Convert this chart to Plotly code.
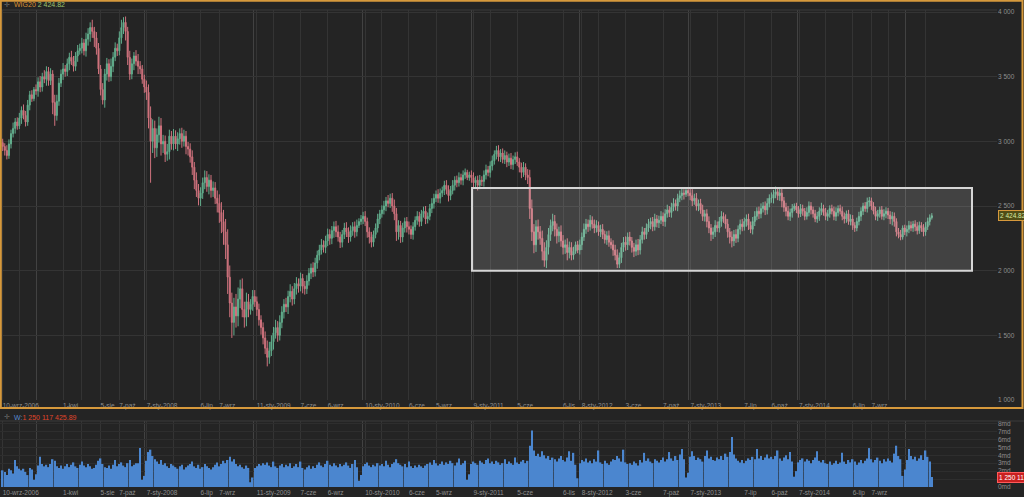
import pandas as pd
import plotly.graph_objects as go

# ---------------- DATA (weekly WIG20) ----------------
first_open = 2990

close_2006 = [2960, 2930, 2890, 2980, 3060, 3100, 3150, 3120, 3180, 3240, 3200, 3150, 3280, 3360, 3330, 3400]
close_2007 = [3390, 3460, 3420, 3500, 3480, 3540, 3470, 3520, 3300, 3200, 3310, 3450, 3520, 3560, 3540, 3600,
              3650, 3620, 3580, 3660, 3700, 3720, 3760, 3700, 3790, 3830, 3880, 3850, 3800, 3720, 3560, 3400,
              3320, 3520, 3600, 3500, 3580, 3650, 3720, 3700, 3800, 3880, 3920, 3850, 3650, 3520, 3600, 3660,
              3620, 3580, 3560, 3480, 3420]
close_2008 = [3380, 3180, 3000, 3100, 2950, 3050, 3120, 2980, 3000, 2900, 2920, 3040, 2980, 3040, 2980, 3020,
              3060, 3000, 3040, 2960, 2940, 2880, 2800, 2700, 2620, 2560, 2600, 2680, 2720, 2650, 2700, 2620,
              2640, 2560, 2520, 2450, 2380, 2300, 2200, 1950, 1750, 1600, 1720, 1650, 1780, 1860, 1700, 1640,
              1760, 1700, 1740, 1800]
close_2009 = [1760, 1700, 1620, 1560, 1480, 1400, 1330, 1380, 1450, 1520, 1560, 1500, 1600, 1680, 1740, 1720,
              1800, 1840, 1780, 1860, 1900, 1880, 1940, 1880, 1860, 1920, 1980, 2020, 1990, 2060, 2120, 2160,
              2200, 2180, 2230, 2280, 2250, 2310, 2340, 2300, 2260, 2220, 2280, 2330, 2300, 2260, 2310, 2340,
              2300, 2350, 2380, 2400]
close_2010 = [2420, 2380, 2300, 2260, 2220, 2280, 2330, 2400, 2440, 2470, 2500, 2540, 2520, 2560, 2500, 2440,
              2300, 2350, 2260, 2330, 2380, 2340, 2320, 2280, 2340, 2390, 2420, 2380, 2440, 2460, 2400, 2420,
              2480, 2520, 2560, 2590, 2560, 2600, 2620, 2660, 2630, 2580, 2620, 2660, 2700, 2680, 2720, 2700,
              2740, 2760, 2720, 2740]
close_2011 = [2720, 2680, 2700, 2660, 2700, 2690, 2740, 2780, 2760, 2810, 2850, 2900, 2930, 2880, 2910, 2860,
              2890, 2840, 2870, 2820, 2860, 2880, 2840, 2800, 2760, 2800, 2740, 2720, 2480, 2300, 2200, 2340,
              2300, 2250, 2150, 2080, 2180, 2280, 2350, 2380, 2320, 2270, 2300, 2230, 2180, 2200, 2140, 2180,
              2120, 2150, 2200, 2160]
close_2012 = [2200, 2260, 2320, 2360, 2340, 2390, 2360, 2330, 2350, 2300, 2320, 2280, 2240, 2270, 2220, 2200,
              2160, 2120, 2050, 2100, 2180, 2220, 2200, 2260, 2230, 2180, 2150, 2200, 2160, 2240, 2300, 2280,
              2330, 2360, 2380, 2340, 2400, 2370, 2390, 2420, 2380, 2440, 2470, 2450, 2490, 2520, 2500, 2560,
              2580, 2600, 2590, 2620, 2600]
close_2013 = [2580, 2540, 2560, 2500, 2520, 2470, 2420, 2440, 2380, 2330, 2280, 2300, 2350, 2330, 2380, 2420,
              2400, 2360, 2300, 2260, 2230, 2280, 2250, 2320, 2360, 2340, 2380, 2400, 2350, 2320, 2380, 2420,
              2460, 2440, 2480, 2500, 2470, 2520, 2560, 2560, 2590, 2610, 2580, 2600, 2540, 2490, 2460, 2420,
              2450, 2480, 2500, 2470]
close_2014 = [2440, 2480, 2460, 2420, 2450, 2500, 2470, 2440, 2400, 2420, 2460, 2480, 2450, 2420, 2440, 2480,
              2460, 2420, 2450, 2480, 2460, 2420, 2400, 2440, 2380, 2400, 2350, 2330, 2380, 2420, 2460, 2500,
              2480, 2530, 2540, 2500, 2460, 2420, 2440, 2470, 2420, 2440, 2460, 2430, 2400, 2420, 2380, 2300,
              2280, 2260, 2330, 2300]
close_2015 = [2320, 2350, 2330, 2360, 2340, 2310, 2350, 2330, 2300, 2340, 2380, 2410, 2424.82]

# upper / lower wick length beyond the candle body (index points)
wick_up = [
    30, 25, 40, 35, 30, 45, 30, 35, 40, 30, 45, 35, 40, 30, 35, 20,                          # 2006
    40, 35, 45, 30, 50, 40, 35, 45, 30, 60, 50, 40, 35, 45, 30, 40, 35, 50, 40, 30,
    45, 35, 40, 30, 50, 45, 40, 60, 35, 45, 40, 30, 50, 40, 45, 35, 60, 40, 45, 35,
    50, 60, 40, 45, 35, 50, 40, 30, 45, 55, 40, 30, 35,                                      # 2007
    50, 60, 90, 70, 60, 50, 70, 60, 50, 45, 60, 50, 40, 55, 45, 50, 40, 45, 50, 40,
    35, 45, 50, 40, 60, 50, 45, 40, 55, 50, 45, 40, 50, 45, 60, 70, 80, 90, 100, 120,
    90, 80, 70, 100, 90, 70, 80, 60, 70, 60, 40, 50,                                         # 2008
    50, 40, 45, 35, 40, 50, 60, 70, 50, 45, 60, 50, 55, 45, 40, 50, 45, 55, 40, 45,
    50, 40, 45, 35, 40, 45, 40, 35, 45, 40, 35, 40, 45, 35, 40, 45, 40, 35, 40, 45,
    50, 40, 35, 40, 45, 35, 40, 35, 40, 45, 25, 30,                                          # 2009
    35, 40, 30, 35, 40, 30, 35, 40, 30, 35, 40, 30, 45, 35, 40, 50, 45, 40, 35, 40,
    30, 35, 40, 30, 35, 30, 40, 35, 30, 35, 40, 30, 35, 40, 35, 30, 40, 35, 30, 35,
    40, 30, 35, 40, 30, 35, 40, 30, 35, 30, 20, 25,                                          # 2010
    35, 40, 30, 35, 40, 30, 35, 40, 30, 35, 40, 30, 35, 40, 30, 35, 40, 30, 35, 40,
    30, 35, 40, 30, 35, 40, 30, 45, 60, 70, 60, 50, 55, 45, 60, 70, 55, 50, 45, 60,
    50, 45, 40, 50, 45, 40, 50, 45, 40, 35, 25, 30,                                          # 2011
    40, 35, 45, 40, 35, 40, 30, 35, 40, 30, 35, 40, 30, 35, 40, 30, 35, 40, 45, 40,
    35, 40, 45, 35, 40, 30, 35, 40, 45, 35, 40, 30, 35, 40, 30, 35, 40, 30, 35, 40,
    30, 35, 40, 30, 35, 40, 30, 35, 40, 35, 30, 20, 25,                                      # 2012
    40, 50, 35, 40, 30, 35, 40, 30, 35, 40, 30, 35, 40, 30, 35, 40, 30, 35, 40, 30,
    45, 35, 40, 30, 35, 40, 30, 35, 40, 30, 35, 40, 30, 35, 40, 30, 35, 40, 30, 45,
    35, 40, 30, 35, 40, 30, 35, 40, 30, 35, 20, 25,                                          # 2013
    30, 35, 30, 25, 40, 35, 30, 25, 30, 35, 30, 45, 30, 35, 30, 25, 30, 35, 40, 25,
    30, 35, 30, 25, 30, 35, 30, 25, 30, 35, 30, 25, 30, 35, 30, 25, 30, 35, 30, 25,
    30, 35, 30, 25, 30, 35, 30, 25, 30, 35, 20, 25,                                          # 2014
    30, 35, 30, 25, 30, 35, 30, 25, 30, 35, 30, 25, 20,                                      # 2015
]
wick_dn = [
    35, 40, 30, 25, 35, 30, 40, 30, 25, 45, 30, 35, 30, 40, 25, 20,                          # 2006
    30, 45, 40, 35, 30, 50, 40, 35, 90, 80, 40, 35, 30, 45, 40, 35, 50, 30, 40, 35,
    45, 30, 40, 35, 45, 50, 60, 50, 70, 50, 40, 45, 35, 60, 50, 40, 35, 45, 30, 40,
    35, 45, 50, 70, 60, 45, 40, 50, 35, 60, 40, 35, 45,                                      # 2007
    60, 80, 320, 90, 80, 70, 60, 90, 70, 60, 50, 60, 45, 50, 40, 55, 45, 50, 40, 60,
    50, 45, 60, 70, 50, 55, 60, 45, 50, 40, 60, 55, 50, 45, 70, 80, 90, 100, 110, 130,
    110, 120, 100, 90, 80, 70, 60, 80, 70, 60, 40, 50,                                       # 2008
    40, 50, 45, 55, 50, 45, 70, 50, 40, 60, 45, 50, 40, 45, 50, 40, 55, 45, 50, 40,
    45, 50, 40, 55, 45, 40, 35, 45, 40, 35, 45, 40, 35, 40, 45, 40, 50, 45, 55, 40,
    35, 45, 40, 35, 40, 45, 35, 40, 45, 35, 20, 25,                                          # 2009
    40, 35, 45, 50, 40, 35, 30, 35, 40, 30, 35, 40, 30, 35, 45, 50, 70, 60, 45, 40,
    35, 45, 40, 35, 40, 30, 35, 40, 35, 30, 40, 35, 30, 35, 40, 30, 35, 40, 30, 35,
    40, 45, 35, 30, 40, 35, 30, 35, 40, 30, 20, 25,                                          # 2010
    40, 35, 45, 40, 30, 35, 40, 35, 30, 40, 35, 30, 40, 35, 40, 30, 35, 40, 30, 35,
    40, 35, 30, 40, 45, 35, 40, 50, 80, 70, 65, 55, 60, 50, 70, 50, 60, 55, 50, 45,
    55, 60, 50, 45, 55, 50, 60, 45, 40, 35, 20, 25,                                          # 2011
    35, 40, 30, 35, 40, 30, 35, 40, 35, 30, 40, 35, 30, 40, 35, 30, 45, 40, 30, 30,
    40, 35, 45, 40, 35, 40, 45, 35, 40, 35, 30, 40, 35, 30, 40, 35, 30, 35, 40, 30,
    35, 40, 30, 35, 40, 30, 35, 40, 30, 35, 40, 20, 25,                                      # 2012
    35, 40, 30, 35, 40, 30, 35, 40, 45, 40, 50, 35, 40, 30, 35, 40, 30, 35, 45, 50,
    50, 40, 35, 30, 40, 35, 30, 40, 35, 30, 40, 35, 30, 40, 35, 30, 40, 35, 30, 35,
    40, 30, 35, 40, 50, 35, 40, 30, 35, 40, 20, 25,                                          # 2013
    30, 25, 35, 30, 25, 30, 35, 30, 25, 30, 35, 30, 25, 30, 35, 30, 25, 30, 35, 30,
    25, 30, 35, 30, 25, 30, 35, 30, 25, 30, 35, 30, 25, 30, 35, 30, 25, 30, 35, 30,
    25, 30, 35, 30, 40, 50, 40, 35, 30, 25, 20, 25,                                          # 2014
    35, 30, 25, 30, 35, 30, 25, 30, 35, 30, 25, 30, 15,                                      # 2015
]

# weekly turnover in billions PLN ("md")
volume_md = [
    2.1, 1.9, 1.5, 2.3, 2.1, 1.7, 3.4, 2.6, 2.3, 2.1, 2.3, 1.9, 1.5, 2.4, 2.2, 0.9,          # 2006
    1.6, 2.7, 3.8, 2.9, 2.6, 2.8, 2.5, 2.9, 3.5, 3.3, 2.6, 2.4, 2.7, 2.3, 2.6, 2.9, 2.5, 2.8, 3.1, 2.6,
    2.4, 2.8, 3.2, 2.7, 2.5, 2.9, 2.6, 2.3, 2.4, 2.8, 3.3, 3.6, 2.9, 2.5, 2.4, 2.7, 2.3, 2.8, 3.4, 2.6,
    2.9, 3.1, 2.7, 2.5, 3.0, 3.4, 2.6, 2.8, 3.0, 3.0, 4.9, 0.9, 1.4,                          # 2007
    3.3, 4.4, 4.7, 3.9, 3.5, 3.2, 2.9, 3.4, 2.8, 3.0, 2.6, 2.4, 2.9, 2.7, 2.5, 2.3, 2.6, 2.8, 2.2, 2.5,
    2.7, 2.9, 3.2, 2.6, 2.4, 2.8, 2.3, 2.5, 2.9, 2.6, 2.4, 2.2, 2.5, 2.8, 3.1, 2.6, 2.9, 3.3, 3.0, 3.4,
    3.8, 3.2, 3.5, 2.9, 2.6, 2.8, 2.5, 2.3, 2.7, 2.4, 0.6, 1.2,                               # 2008
    2.4, 2.6, 2.9, 2.7, 3.0, 2.8, 3.1, 2.7, 2.5, 3.2, 2.6, 2.4, 2.7, 2.9, 2.5, 2.8, 2.6, 3.0, 2.4, 2.6,
    2.9, 2.5, 3.2, 2.4, 2.2, 2.5, 2.7, 2.3, 2.6, 2.4, 2.8, 3.1, 2.7, 2.5, 2.9, 3.3, 2.8, 2.6, 3.0, 2.7,
    2.5, 2.9, 2.6, 2.8, 3.1, 2.7, 2.4, 2.9, 3.4, 2.5, 0.8, 1.5,                               # 2009
    2.6, 2.9, 3.1, 2.7, 2.5, 2.8, 2.6, 3.0, 2.7, 2.9, 2.6, 3.3, 2.8, 2.5, 2.9, 3.1, 3.5, 3.0, 2.8, 2.6,
    2.9, 2.5, 3.2, 2.6, 2.4, 2.7, 2.5, 2.8, 2.6, 2.4, 2.7, 2.9, 3.1, 2.8, 3.4, 3.0, 2.7, 2.9, 3.2, 2.8,
    3.1, 2.9, 3.3, 3.0, 2.7, 3.1, 3.6, 2.8, 3.0, 3.3, 0.9, 1.6,                               # 2010
    2.9, 3.2, 3.0, 2.8, 3.3, 3.1, 2.9, 3.4, 3.6, 3.0, 3.2, 2.9, 3.3, 3.1, 2.8, 3.0, 3.5, 2.9, 3.2, 3.0,
    2.8, 3.7, 3.1, 2.9, 3.2, 3.4, 3.0, 3.3, 5.2, 7.1, 4.6, 3.9, 4.2, 3.8, 4.5, 4.0, 3.6, 3.9, 3.4, 3.7,
    3.5, 3.2, 3.6, 3.9, 3.4, 3.2, 3.7, 4.5, 3.3, 4.3, 2.8, 1.1,                               # 2011
    3.0, 3.4, 3.2, 3.6, 3.1, 3.3, 3.0, 3.5, 3.2, 4.6, 3.1, 2.9, 3.3, 3.0, 2.8, 3.2, 3.5, 3.4, 3.9, 3.6,
    3.2, 4.7, 3.1, 2.9, 3.0, 2.8, 3.2, 3.0, 2.7, 3.4, 3.1, 4.3, 3.3, 3.6, 3.2, 3.0, 3.5, 3.3, 3.1, 3.4,
    3.7, 3.2, 3.5, 4.4, 3.6, 3.3, 3.9, 3.4, 4.1, 4.8, 3.5, 1.2, 1.8,                          # 2012
    3.8, 4.5, 3.9, 3.4, 3.7, 3.5, 3.2, 3.9, 4.6, 3.6, 3.8, 3.4, 3.3, 3.7, 3.5, 3.9, 3.4, 4.2, 3.8, 4.4,
    6.3, 4.1, 3.6, 3.3, 3.1, 3.4, 3.0, 3.3, 3.6, 3.4, 3.8, 3.5, 4.8, 3.6, 3.9, 3.4, 3.7, 4.1, 3.6, 3.8,
    3.5, 3.9, 4.6, 3.6, 3.3, 3.7, 4.0, 3.5, 4.4, 3.2, 1.3, 2.0,                               # 2013
    3.1, 3.4, 3.6, 3.2, 3.5, 3.3, 3.0, 3.4, 3.7, 4.5, 3.3, 3.1, 3.4, 3.0, 2.9, 3.2, 2.8, 3.0, 3.3, 2.9,
    3.1, 4.3, 3.2, 2.9, 3.4, 3.1, 3.5, 3.2, 2.8, 3.1, 3.4, 3.0, 3.3, 3.6, 4.9, 3.5, 3.1, 3.4, 3.7, 3.3,
    3.0, 3.5, 3.2, 3.6, 3.3, 3.1, 4.2, 5.2, 3.9, 3.5, 1.4, 2.2,                               # 2014
    3.4, 4.8, 3.9, 3.5, 3.8, 3.3, 3.6, 4.0, 3.4, 4.6, 3.8, 3.2, 1.25,                         # 2015
]

tick_dates = ["2006-09-10", "2007-04-01", "2007-08-05", "2007-10-07", "2008-01-07", "2008-07-06",
              "2008-09-07", "2009-01-11", "2009-06-07", "2009-09-06", "2010-01-10", "2010-06-06",
              "2010-09-05", "2011-01-09", "2011-06-05", "2011-11-06", "2012-01-08", "2012-06-03",
              "2012-10-07", "2013-01-07", "2013-07-07", "2013-10-06", "2014-01-07", "2014-07-06",
              "2014-09-07"]
tick_labels = ["10-wrz-2006", "1-kwi", "5-sie", "7-paź", "7-sty-2008", "6-lip", "7-wrz", "11-sty-2009",
               "7-cze", "6-wrz", "10-sty-2010", "6-cze", "5-wrz", "9-sty-2011", "5-cze", "6-lis",
               "8-sty-2012", "3-cze", "7-paź", "7-sty-2013", "7-lip", "6-paź", "7-sty-2014", "6-lip",
               "7-wrz"]
extra_grid_dates = ["2006-11-05", "2007-06-03", "2008-04-06", "2009-03-08", "2010-03-07", "2011-03-06",
                    "2012-03-04", "2013-04-07", "2014-04-06", "2014-11-02", "2015-03-08"]
year_grid_dates = ["2007-01-01", "2008-01-01", "2009-01-01", "2010-01-01", "2011-01-01", "2012-01-01",
                   "2013-01-01", "2014-01-01", "2015-01-01"]

price_ticks = [1000, 1500, 2000, 2500, 3000, 3500, 4000]
price_tick_text = ["1 000", "1 500", "2 000", "2 500", "3 000", "3 500", "4 000"]
vol_ticks = [0, 1, 2, 3, 4, 5, 6, 7, 8]
vol_tick_text = ["0md", "1md", "2md", "3md", "4md", "5md", "6md", "7md", "8md"]

last_price_text = "2 424.82"
last_volume_text = "1 250 117 425.89"
last_volume_box = "1 250 117"
zone_low, zone_high = 2000, 2640

# ---------------- BUILD ----------------
close = (close_2006 + close_2007 + close_2008 + close_2009 + close_2010 + close_2011 +
         close_2012 + close_2013 + close_2014 + close_2015)
assert len(close) == len(wick_up) == len(wick_dn) == len(volume_md), (
    len(close), len(wick_up), len(wick_dn), len(volume_md))

weeks = pd.date_range("2006-09-10", periods=len(close), freq="7D")
open_ = [first_open] + close[:-1]
high = [max(o, c) + u for o, c, u in zip(open_, close, wick_up)]
low = [min(o, c) - d for o, c, d in zip(open_, close, wick_dn)]

W, H = 1024, 497
BG = "#242424"
GRID = "#343434"
YEAR_GRID = "#424242"
TXT = "#8e8e8e"
UP = "#62ae8d"
DN = "#cf727d"
VOL = "#4b86cf"
ORANGE = "#d6993c"
FONT = "Liberation Sans, Arial, sans-serif"


def fy(px):  # pixel row -> paper fraction
    return 1 - px / H


def fx(px):
    return px / W


x_range = ["2006-09-01", "2015-11-03"]
plot_right = 997

fig = go.Figure()
fig.add_trace(go.Candlestick(
    x=weeks, open=open_, high=high, low=low, close=close,
    xaxis="x", yaxis="y", whiskerwidth=0,
    increasing=dict(line=dict(color=UP, width=1), fillcolor=UP),
    decreasing=dict(line=dict(color=DN, width=1), fillcolor=DN),
    showlegend=False, name="WIG20"))
fig.add_trace(go.Bar(
    x=weeks, y=volume_md, xaxis="x2", yaxis="y2",
    marker=dict(color=VOL, line=dict(width=0)), showlegend=False, name="W"))

common_x = dict(
    type="date", range=x_range, domain=[0, fx(plot_right)],
    tickmode="array", tickvals=tick_dates + extra_grid_dates,
    ticktext=tick_labels + [""] * len(extra_grid_dates),
    ticklabelposition="outside right", tickangle=0, ticks="", ticklen=0,
    tickfont=dict(family=FONT, size=6.5, color=TXT),
    showgrid=True, gridcolor=GRID, gridwidth=1, zeroline=False, showline=False,
    minor=dict(tickmode="array", tickvals=year_grid_dates, showgrid=True,
               gridcolor=YEAR_GRID, gridwidth=1, ticks=""),
    automargin=False, fixedrange=True,
)

fig.update_layout(
    width=W, height=H, margin=dict(l=0, r=0, t=0, b=0),
    paper_bgcolor=BG, plot_bgcolor=BG, bargap=0.3,
    font=dict(family=FONT, size=7, color=TXT),
    xaxis=dict(common_x, anchor="y", rangeslider=dict(visible=False)),
    xaxis2=dict(common_x, anchor="y2", matches="x"),
    yaxis=dict(domain=[fy(400), fy(10)], range=[1000, 4015.5], side="right", anchor="x",
               tickmode="array", tickvals=price_ticks, ticktext=price_tick_text, ticks="",
               tickfont=dict(family=FONT, size=6.5, color=TXT),
               showgrid=True, gridcolor=GRID, zeroline=False, showline=False, automargin=False),
    yaxis2=dict(domain=[fy(487), fy(421)], range=[0, 8.31], side="right", anchor="x2",
                tickmode="array", tickvals=vol_ticks, ticktext=vol_tick_text, ticks="",
                tickfont=dict(family=FONT, size=6.5, color=TXT),
                showgrid=True, gridcolor="#2e2e2e", zeroline=False, showline=False, automargin=False),
    hovermode=False,
)

# highlighted consolidation zone
fig.add_shape(type="rect", xref="x", yref="y", x0="2011-01-04", x1="2015-08-11",
              y0=zone_low, y1=zone_high, layer="above",
              fillcolor="rgba(255,255,255,0.14)", line=dict(color="#d6d6d6", width=2))

# pane separators and selected-pane frame
fig.add_shape(type="line", xref="paper", yref="paper", x0=0, x1=fx(plot_right), y0=fy(10), y1=fy(10),
              line=dict(color="#3a3a3a", width=1))
fig.add_shape(type="line", xref="paper", yref="paper", x0=0, x1=1, y0=fy(421), y1=fy(421),
              line=dict(color="#3a3a3a", width=1))
fig.add_shape(type="rect", xref="paper", yref="paper", x0=fx(0.8), x1=fx(1022.5), y0=fy(408), y1=fy(0.8),
              line=dict(color=ORANGE, width=2), fillcolor="rgba(0,0,0,0)")

# pane headers
fig.add_annotation(xref="paper", yref="paper", x=fx(2), y=fy(5), xanchor="left", yanchor="middle",
                   text="✛", showarrow=False, font=dict(family="DejaVu Sans", size=7, color="#6a6a6a"))
fig.add_annotation(xref="paper", yref="paper", x=fx(12), y=fy(5), xanchor="left", yanchor="middle",
                   text="<span style='color:#dc9033'>WIG20</span> <span style='color:#9dc46e'>"
                        + last_price_text + "</span>",
                   showarrow=False, font=dict(family=FONT, size=7))
fig.add_annotation(xref="paper", yref="paper", x=fx(2), y=fy(417), xanchor="left", yanchor="middle",
                   text="✛", showarrow=False, font=dict(family="DejaVu Sans", size=7, color="#6a6a6a"))
fig.add_annotation(xref="paper", yref="paper", x=fx(12), y=fy(417), xanchor="left", yanchor="middle",
                   text="<span style='color:#5a8ad0'>W:</span><span style='color:#e0452a'>"
                        + last_volume_text + "</span>",
                   showarrow=False, font=dict(family=FONT, size=7))

# last value markers on the right axes
fig.add_annotation(xref="paper", yref="y", x=fx(998), y=close[-1], xanchor="left", yanchor="middle",
                   text=last_price_text, showarrow=False, bgcolor="#514d16", bordercolor=ORANGE,
                   borderwidth=1, borderpad=1, font=dict(family=FONT, size=6.5, color="#d6eba6"))
fig.add_annotation(xref="paper", yref="y2", x=fx(997), y=volume_md[-1], xanchor="left", yanchor="middle",
                   text=last_volume_box, showarrow=False, bgcolor="#c92020", bordercolor="#ff5a5a",
                   borderwidth=1, borderpad=1, font=dict(family=FONT, size=6.5, color="#ffffff"))

fig.write_html("out.html",
               config={"displayModeBar": False},
               post_script="document.body.style.margin='0';document.body.style.padding='0';"
                           "document.body.style.background='" + BG + "';")
